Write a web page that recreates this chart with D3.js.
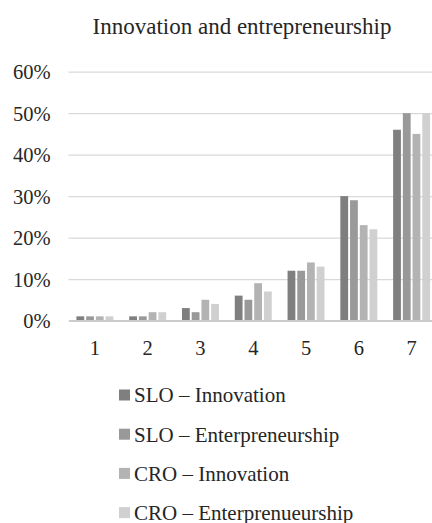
<!DOCTYPE html>
<html>
<head>
<meta charset="utf-8">
<script src="https://cdn.jsdelivr.net/npm/d3@7/dist/d3.min.js"></script>
<style>
  html, body { margin: 0; padding: 0; background: #fff; overflow: hidden; }
  svg { display: block; }
</style>
</head>
<body>
<svg id="chart" width="432" height="523" font-family="Liberation Serif"></svg>
<script>
// Rating scale categories (1–7)
const categories = ["1", "2", "3", "4", "5", "6", "7"];

// Series names as shown in the legend
const seriesNames = [
  "SLO – Innovation",
  "SLO – Enterpreneurship",
  "CRO – Innovation",
  "CRO – Enterprenueurship"
];

// Share of respondents per rating (fractions)
const sloInnovation        = [0.01, 0.01, 0.03, 0.06, 0.12, 0.30, 0.46];
const sloEntrepreneurship  = [0.01, 0.01, 0.02, 0.05, 0.12, 0.29, 0.50];
const croInnovation        = [0.01, 0.02, 0.05, 0.09, 0.14, 0.23, 0.45];
const croEntrepreneurship  = [0.01, 0.02, 0.04, 0.07, 0.13, 0.22, 0.50];

const seriesValues = [sloInnovation, sloEntrepreneurship, croInnovation, croEntrepreneurship];
const seriesColors = ["#7f7f7f", "#999999", "#b3b3b3", "#d0d0d0"];

const yTicks = [0, 0.1, 0.2, 0.3, 0.4, 0.5, 0.6];

const FONT = "Liberation Serif";
const INK = "#262626";

const svg = d3.select("#chart");

const x0 = d3.scaleBand()
  .domain(categories)
  .range([68.5, 438])
  .paddingInner(0.3)
  .paddingOuter(0.15);

const x1 = d3.scaleBand()
  .domain(d3.range(seriesNames.length))
  .range([0, x0.bandwidth()])
  .paddingInner(0.2);

const y = d3.scaleLinear().domain([0, 0.6]).range([320.5, 71.7]);

// Title
svg.append("text")
  .attr("x", 242)
  .attr("y", 34)
  .attr("text-anchor", "middle")
  .attr("font-family", FONT)
  .attr("font-size", 23)
  .attr("fill", INK)
  .text("Innovation and entrepreneurship");

// Horizontal gridlines and y labels
const yAxis = d3.axisLeft(y)
  .tickValues(yTicks)
  .tickFormat(d3.format(".0%"))
  .tickSize(-(x0.range()[1] - x0.range()[0]))
  .tickPadding(18);

const gy = svg.append("g")
  .attr("transform", `translate(${x0.range()[0]},0)`)
  .call(yAxis)
  .attr("font-family", FONT)
  .attr("font-size", 20.5);
gy.select(".domain").remove();
gy.selectAll(".tick line").attr("stroke", "#d9d9d9").attr("stroke-width", 1.2);
gy.selectAll(".tick text")
  .attr("fill", INK)
  .attr("dy", "0.34em");

// Bars
const groups = svg.append("g")
  .selectAll("g")
  .data(categories)
  .join("g")
  .attr("transform", d => `translate(${x0(d)},0)`);

groups.selectAll("rect")
  .data((c, ci) => seriesValues.map((vals, si) => ({ si, v: vals[ci] })))
  .join("rect")
  .attr("x", d => x1(d.si))
  .attr("width", x1.bandwidth())
  .attr("y", d => y(d.v))
  .attr("height", d => y(0) - y(d.v))
  .attr("fill", d => seriesColors[d.si]);

// Category axis
const xAxis = d3.axisBottom(x0).tickSize(0).tickPadding(20);
const gx = svg.append("g")
  .attr("transform", `translate(0,${y(0)})`)
  .call(xAxis)
  .attr("font-family", FONT)
  .attr("font-size", 20.5);
gx.select(".domain").attr("stroke", "#cccccc").attr("stroke-width", 2.2);
gx.selectAll(".tick text").attr("fill", INK);

// Legend
const legend = svg.append("g")
  .attr("font-family", FONT)
  .attr("font-size", 21)
  .selectAll("g")
  .data(seriesNames)
  .join("g")
  .attr("transform", (d, i) => `translate(119,${395 + i * 39.2})`);

legend.append("rect")
  .attr("x", 0)
  .attr("y", -5.5)
  .attr("width", 11)
  .attr("height", 11)
  .attr("fill", (d, i) => seriesColors[i]);

legend.append("text")
  .attr("x", 15)
  .attr("y", 0)
  .attr("dy", "0.35em")
  .attr("fill", INK)
  .text(d => d);
</script>
</body>
</html>
